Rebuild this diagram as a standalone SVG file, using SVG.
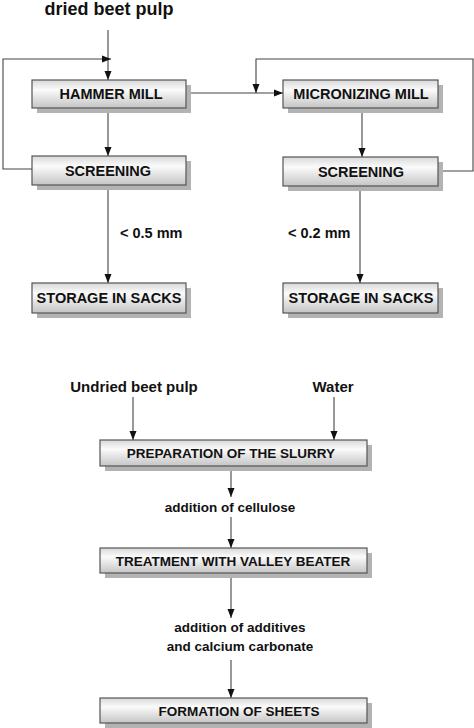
<svg xmlns="http://www.w3.org/2000/svg" width="474" height="728" viewBox="0 0 474 728">
<defs>
<linearGradient id="g" x1="0" y1="0" x2="0" y2="1">
<stop offset="0" stop-color="#d8d8d8"/>
<stop offset="0.35" stop-color="#fbfbfb"/>
<stop offset="1" stop-color="#c4c4c4"/>
</linearGradient>
<marker id="ah" markerWidth="10" markerHeight="8" refX="9" refY="4" orient="auto" markerUnits="userSpaceOnUse">
<path d="M0,0.5 L9,4 L0,7.5 Z" fill="#111"/>
</marker>
<style>
.sh{fill:#b3b3b3}
.bx{fill:url(#g);stroke:#555;stroke-width:1.2}
.t{font-family:"Liberation Sans",Arial,sans-serif;font-weight:bold;fill:#111;text-anchor:middle}
.tb{font-size:14.5px}
.ts{font-size:13.5px}
.c{fill:none;stroke:#444;stroke-width:1.1;marker-end:url(#ah)}
.cn{fill:none;stroke:#444;stroke-width:1.1}
</style>
</defs>
<rect width="474" height="728" fill="#fff"/>

<g id="labels">
<text class="t" x="109" y="15" font-size="18">dried beet pulp</text>
<text class="t tb" x="120" y="238" text-anchor="start" style="text-anchor:start">&lt; 0.5 mm</text>
<text class="t tb" x="288" y="238" style="text-anchor:start">&lt; 0.2 mm</text>
<text class="t" x="134" y="392" font-size="15">Undried beet pulp</text>
<text class="t" x="333" y="392" font-size="15">Water</text>
<text class="t ts" x="230" y="512">addition of cellulose</text>
<text class="t ts" x="240" y="632">addition of additives</text>
<text class="t ts" x="240" y="651">and calcium carbonate</text>
</g>

<g id="connectors">
<path class="c" d="M108,30 V80"/>
<path class="c" d="M32,169 H3 V59 H111"/>
<path class="c" d="M108,108 V156"/>
<path class="c" d="M186,93 H283"/>
<path class="c" d="M438,171 H473 V59 H256 V93"/>
<path class="c" d="M362,108 V157"/>
<path class="c" d="M108,185 V283"/>
<path class="c" d="M360,186 V283"/>
<path class="c" d="M133,397 V440"/>
<path class="c" d="M334,397 V440"/>
<path class="c" d="M231,466 V497"/>
<path class="c" d="M231,517 V548"/>
<path class="c" d="M231,573 V618"/>
<path class="c" d="M231,660 V698"/>
</g>

<g id="hammer-mill">
<rect class="sh" x="37" y="85" width="154" height="28"/>
<rect class="bx" x="32" y="80" width="154" height="28"/>
<text class="t tb" x="111" y="99">HAMMER MILL</text>
</g>
<g id="screening-1">
<rect class="sh" x="37" y="161" width="154" height="29"/>
<rect class="bx" x="32" y="156" width="154" height="29"/>
<text class="t tb" x="108" y="176">SCREENING</text>
</g>
<g id="storage-1">
<rect class="sh" x="37" y="288" width="154" height="30"/>
<rect class="bx" x="32" y="283" width="154" height="30"/>
<text class="t tb" x="109" y="303">STORAGE IN SACKS</text>
</g>
<g id="micronizing-mill">
<rect class="sh" x="288" y="85" width="155" height="28"/>
<rect class="bx" x="283" y="80" width="155" height="28"/>
<text class="t tb" x="361" y="99">MICRONIZING MILL</text>
</g>
<g id="screening-2">
<rect class="sh" x="288" y="162" width="155" height="29"/>
<rect class="bx" x="283" y="157" width="155" height="29"/>
<text class="t tb" x="361" y="177">SCREENING</text>
</g>
<g id="storage-2">
<rect class="sh" x="288" y="288" width="155" height="30"/>
<rect class="bx" x="283" y="283" width="155" height="30"/>
<text class="t tb" x="361" y="303">STORAGE IN SACKS</text>
</g>
<g id="preparation">
<rect class="sh" x="105" y="445" width="267" height="26"/>
<rect class="bx" x="100" y="440" width="267" height="26"/>
<text class="t ts" x="231" y="458">PREPARATION OF THE SLURRY</text>
</g>
<g id="treatment">
<rect class="sh" x="105" y="553" width="267" height="25"/>
<rect class="bx" x="100" y="548" width="267" height="25"/>
<text class="t ts" x="233" y="566">TREATMENT WITH VALLEY BEATER</text>
</g>
<g id="formation">
<rect class="sh" x="105" y="703" width="267" height="25"/>
<rect class="bx" x="100" y="698" width="267" height="25"/>
<text class="t ts" x="239" y="716">FORMATION OF SHEETS</text>
</g>
</svg>
